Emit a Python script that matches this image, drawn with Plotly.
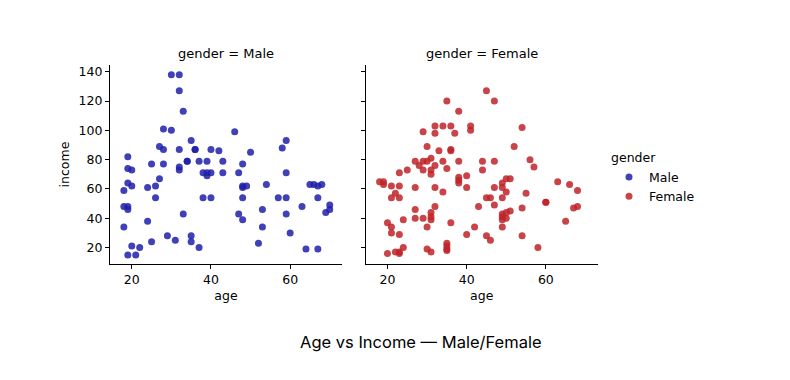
import plotly.graph_objects as go

male_age = [18, 18, 19, 19, 18, 19, 19, 20, 19, 20, 19, 21, 20, 22, 24, 24, 25, 25, 26, 26,
            27, 27, 28, 28, 28, 29, 30, 30, 31, 32, 32, 32, 32, 32, 33, 33, 34, 34, 35, 35,
            35, 36, 36, 37, 37, 38, 38, 39, 39, 39, 40, 40, 40, 42, 43, 43, 46, 47, 47, 48,
            48, 48, 48, 48, 49, 50, 52, 53, 53, 54, 57, 58, 59, 59, 59, 59, 60, 63, 64, 65,
            66, 67, 67, 67, 68, 69, 70, 70]
male_income = [59, 48, 48, 46, 34, 82, 74, 73, 64, 62, 15, 15, 21, 20, 61, 38, 77, 24, 54, 62,
               67, 89, 87, 77, 101, 28, 100, 138, 25, 138, 127, 87, 75, 73, 113, 43, 79, 79, 93, 28,
               24, 87, 87, 20, 79, 54, 71, 79, 71, 69, 71, 87, 54, 86, 79, 71, 99, 71, 43, 77,
               61, 62, 54, 39, 62, 85, 23, 46, 34, 63, 54, 88, 93, 71, 54, 43, 30, 48, 19, 63,
               63, 62, 54, 19, 63, 44, 49, 46]

female_age = [45, 47, 35, 38, 29, 32, 34, 36, 32, 37, 41, 41, 54, 52, 30, 33, 36, 36, 27, 29,
              30, 31, 28, 29, 32, 31, 31, 34, 35, 38, 44, 47, 44, 56, 57, 25, 23, 18, 19, 19,
              21, 23, 21, 22, 23, 27, 32, 34, 38, 38, 38, 40, 40, 49, 49, 50, 51, 47, 50, 49,
              45, 46, 55, 63, 66, 68, 60, 60, 43, 47, 32, 27, 54, 67, 68, 31, 31, 31, 27, 29,
              24, 30, 20, 21, 21, 23, 36, 49, 50, 51, 49, 50, 49, 49, 65, 42, 40, 45, 46, 54,
              58, 35, 35, 35, 35, 30, 31, 20, 22, 23, 23, 24]
female_income = [127, 120, 120, 113, 99, 103, 103, 103, 98, 98, 103, 100, 102, 89, 89, 86, 87, 86, 79, 79,
                 79, 81, 76, 73, 76, 73, 70, 79, 74, 79, 79, 79, 73, 80, 75, 73, 71, 65, 65, 63,
                 62, 62, 54, 57, 54, 61, 61, 58, 68, 66, 64, 69, 61, 64, 61, 67, 67, 61, 58, 54,
                 54, 54, 57, 65, 63, 59, 51, 51, 48, 49, 48, 46, 47, 47, 48, 44, 41, 39, 40, 40,
                 39, 34, 37, 34, 30, 29, 37, 43, 44, 45, 41, 40, 39, 34, 38, 34, 29, 28, 25, 28,
                 20, 23, 21, 19, 18, 19, 17, 16, 17, 16, 17, 20]

x_ticks = [20, 40, 60]
y_ticks = [20, 40, 60, 80, 100, 120, 140]

W, H = 790, 380
OFF = 8  # page body margin
MALE_COLOR = "rgba(30,30,170,0.85)"
FEMALE_COLOR = "rgba(190,35,40,0.85)"
FONT = "DejaVu Sans"


def px(x):
    return (x - OFF) / W


def py(y):
    return 1 - (y - OFF) / H


fig = go.Figure()
fig.add_trace(go.Scatter(x=male_age, y=male_income, mode="markers", name="Male",
                         marker=dict(size=7, color=MALE_COLOR, line=dict(width=0)),
                         xaxis="x", yaxis="y"))
fig.add_trace(go.Scatter(x=female_age, y=female_income, mode="markers", name="Female",
                         marker=dict(size=7, color=FEMALE_COLOR, line=dict(width=0)),
                         xaxis="x2", yaxis="y2"))

ax_common = dict(showline=True, linecolor="black", linewidth=1.2, ticks="outside",
                 ticklen=4, tickwidth=1, tickcolor="black", showgrid=False, zeroline=False,
                 tickfont=dict(family=FONT, size=12.5, color="black"),
                 title_font=dict(family=FONT, size=12.5, color="black"), mirror=False)

fig.update_layout(
    width=W, height=H, margin=dict(l=0, r=0, t=0, b=0),
    plot_bgcolor="white", paper_bgcolor="white",
    xaxis=dict(domain=[px(110), px(342)], range=[14.5, 73.1], tickvals=x_ticks,
               title=dict(text="age", standoff=5), anchor="y", **ax_common),
    xaxis2=dict(domain=[px(365.7), px(597.7)], range=[14.5, 73.1], tickvals=x_ticks,
                title=dict(text="age", standoff=5), anchor="y2", **ax_common),
    yaxis=dict(domain=[py(264), py(65)], range=[8.8, 144.6], tickvals=y_ticks,
               title=dict(text="income", standoff=6), anchor="x", **ax_common),
    yaxis2=dict(domain=[py(264), py(65)], range=[8.8, 144.6], tickvals=y_ticks, showticklabels=False,
                anchor="x2", **ax_common),
    showlegend=True,
    legend=dict(x=px(609), y=py(146), xanchor="left", yanchor="top",
                title=dict(text="gender", font=dict(family=FONT, size=12.5, color="black")),
                font=dict(family=FONT, size=12.5, color="black"),
                bgcolor="rgba(0,0,0,0)", itemsizing="trace", tracegroupgap=0),
    annotations=[
        dict(text="gender = Male", x=px(226), y=py(53), xref="paper", yref="paper",
             xanchor="center", yanchor="middle",
             showarrow=False, font=dict(family=FONT, size=13, color="black")),
        dict(text="gender = Female", x=px(481.7), y=py(53), xref="paper", yref="paper",
             xanchor="center", yanchor="middle",
             showarrow=False, font=dict(family=FONT, size=13, color="black")),
        dict(text="Age vs Income — Male/Female", x=px(421), y=py(342), xref="paper", yref="paper",
             xanchor="center", yanchor="middle",
             showarrow=False, font=dict(family="Inter", size=16.5, color="black")),
    ],
)

fig.write_html("out.html")
